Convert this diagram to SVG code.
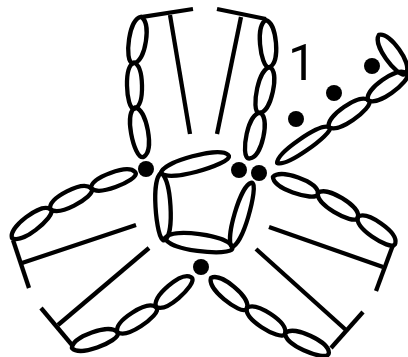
<svg xmlns="http://www.w3.org/2000/svg" width="408" height="357" viewBox="0 0 408 357">
<style>
.l{fill:none;stroke:#000;stroke-width:4.3;stroke-linejoin:round;vector-effect:non-scaling-stroke}
line{stroke:#000;stroke-width:4.3;fill:none}
circle{fill:#000}
text{font-family:Roboto,"Liberation Sans",Arial,sans-serif;font-size:50px;fill:#000}
</style>
<defs><path id="e" class="l" d="M-1 0C-.9-.72-.45-1 0-1S.9-.72 1 0S.45 1 0 1S-.9 .72-1 0Z"/></defs>
<rect width="408" height="357" fill="#fff"/>
<g id="connectors">
<line x1="141" y1="17" x2="193" y2="9"/><line x1="170" y1="15" x2="190" y2="134"/>
<line x1="217" y1="9" x2="266" y2="19"/><line x1="241" y1="17" x2="217" y2="134"/>
<line x1="13" y1="240" x2="29" y2="288"/><line x1="22" y1="263" x2="136" y2="225"/>
<line x1="41" y1="308" x2="72" y2="345"/><line x1="58" y1="325" x2="149" y2="248"/>
<line x1="393" y1="245" x2="376" y2="291"/><line x1="269" y1="227" x2="383" y2="267"/>
<line x1="331" y1="348" x2="363" y2="312"/><line x1="256" y1="249" x2="346" y2="330"/>
</g>
<g id="node-top-left">
<use href="#e" transform="translate(137.5 40) rotate(98.7) scale(23.5 8.5)"/>
<use href="#e" transform="translate(134.5 85.5) rotate(88.7) scale(23 7.5)"/>
<use href="#e" transform="translate(139.5 132) rotate(79.6) scale(25 8.5)"/>
</g>
<g id="node-top-right">
<use href="#e" transform="translate(268 43.5) rotate(85) scale(23.5 8)"/>
<use href="#e" transform="translate(265 90) rotate(102.3) scale(23.5 8)"/>
<use href="#e" transform="translate(255 135.5) rotate(102.5) scale(23.5 8.5)"/>
</g>
<g id="node-right-loop">
<use href="#e" transform="translate(303 145) rotate(-34.7) scale(31.5 6.5)"/>
<use href="#e" transform="translate(348.5 113.5) rotate(-34.7) scale(24 8)"/>
<use href="#e" transform="translate(387 86.5) rotate(-35.4) scale(23.5 8)"/>
<use href="#e" transform="translate(392.5 54) rotate(54.6) scale(23.5 8)"/>
</g>
<g id="node-center">
<use href="#e" transform="translate(194.5 164) rotate(-15) scale(35 8)"/>
<use href="#e" transform="translate(163 206.5) rotate(86.6) scale(33.5 7.5)"/>
<use href="#e" transform="translate(198.5 242.5) rotate(7.6) scale(34 8.5)"/>
<use href="#e" transform="translate(241.5 215) rotate(-73.5) scale(33.5 7)"/>
</g>
<g id="node-left">
<use href="#e" transform="translate(31 223.5) rotate(-37.3) scale(24 8)"/>
<use href="#e" transform="translate(70.5 198.5) rotate(-27) scale(23 8)"/>
<use href="#e" transform="translate(113 180) rotate(-20) scale(23.5 7.5)"/>
</g>
<g id="node-lower-left">
<use href="#e" transform="translate(94.5 340) rotate(-19.6) scale(24 8)"/>
<use href="#e" transform="translate(136.5 319.5) rotate(-32.7) scale(23 8)"/>
<use href="#e" transform="translate(173.5 292) rotate(-40.6) scale(23 8)"/>
</g>
<g id="node-right">
<use href="#e" transform="translate(295.5 185) rotate(19.6) scale(24 8)"/>
<use href="#e" transform="translate(338 205) rotate(31) scale(23.5 8)"/>
<use href="#e" transform="translate(376.5 230) rotate(35) scale(23 8)"/>
</g>
<g id="node-lower-right">
<use href="#e" transform="translate(229 293) rotate(39.8) scale(23.5 8)"/>
<use href="#e" transform="translate(266 320.5) rotate(33.3) scale(23 8)"/>
<use href="#e" transform="translate(307 343) rotate(24.4) scale(24 8)"/>
</g>
<g id="dots">
<circle cx="146" cy="169" r="8"/><circle cx="239" cy="170" r="8"/><circle cx="259" cy="173" r="8"/><circle cx="201" cy="267" r="8"/>
<circle cx="296" cy="119" r="8"/><circle cx="334" cy="93" r="8"/><circle cx="372" cy="66" r="8"/>
</g>
<text id="label" x="288" y="80">1</text>
</svg>
